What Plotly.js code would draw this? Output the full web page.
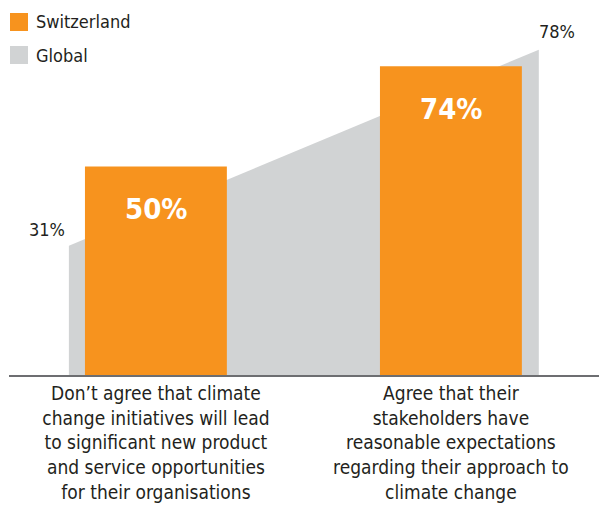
<!DOCTYPE html>
<html><head><meta charset="utf-8">
<script src="https://cdn.plot.ly/plotly-3.0.1.min.js"></script>
<style>html,body{margin:0;padding:0;background:#fff}#chart{width:599px;height:506px}</style>
</head><body><div id="chart"></div>
<script>
const categories = [
  "Don’t agree that climate<br>change initiatives will lead<br>to significant new product<br>and service opportunities<br>for their organisations",
  "Agree that their<br>stakeholders have<br>reasonable expectations<br>regarding their approach to<br>climate change"
];
const switzerland = [50, 74];
const globalVals = [31, 78];
const seriesNames = ["Switzerland", "Global"];

const ORANGE = "#f7931e", GREY = "#d1d3d4", TXT = "#231f20";
const FONT = "'DejaVu Sans Condensed', 'Liberation Sans Narrow', 'Liberation Sans', Arial, sans-serif";
const idx = categories.map((_, i) => i);
const spread = 0.295; // global area extends beyond bars
const areaX = [idx[0] - spread, idx[idx.length - 1] + spread + 0.003];
const XR = [-0.498, 1.502], YR = [0, 87.5];

const traces = [
  {type: "scatter", x: areaX, y: globalVals, mode: "none", fill: "tozeroy",
   fillcolor: GREY, name: seriesNames[1], hoverinfo: "skip", xaxis: "x", yaxis: "y"},
  {type: "bar", x: idx, y: switzerland, width: 0.481, marker: {color: ORANGE},
   name: seriesNames[0], xaxis: "x2", yaxis: "y2"}
];

const annotations = [];
switzerland.forEach((v, i) => annotations.push({x: idx[i], y: v, xref: "x", yref: "y",
  text: "<b>" + v + "%</b>", showarrow: false, yanchor: "middle", yshift: -43,
  font: {family: FONT, size: 29, color: "#ffffff"}}));
annotations.push({x: areaX[0], y: globalVals[0], xref: "x", yref: "y", text: globalVals[0] + "%",
  showarrow: false, xanchor: "right", yanchor: "bottom", xshift: -2, yshift: 4,
  font: {family: FONT, size: 18, color: TXT}});
annotations.push({x: areaX[1], y: globalVals[1], xref: "x", yref: "y", text: globalVals[1] + "%",
  showarrow: false, xanchor: "left", yanchor: "bottom", xshift: -2, yshift: 6,
  font: {family: FONT, size: 18, color: TXT}});

// custom legend
const W = 590, H = 365, L = 9, B = 375;
const px = v => (v - L) / W, py = v => (B - v) / H;
const legendItems = [[seriesNames[0], ORANGE, 13], [seriesNames[1], GREY, 46]];
const shapes = [];
legendItems.forEach(([name, col, top]) => {
  shapes.push({type: "rect", xref: "paper", yref: "paper", x0: px(10), x1: px(28),
    y0: py(top + 18), y1: py(top), fillcolor: col, line: {width: 0}});
  annotations.push({xref: "paper", yref: "paper", x: px(34), y: py(top + 9), text: name,
    showarrow: false, xanchor: "left", yanchor: "middle",
    font: {family: FONT, size: 18, color: TXT}});
});

const layout = {
  width: 599, height: 506, margin: {l: 9, r: 0, t: 10, b: 131},
  paper_bgcolor: "#fff", plot_bgcolor: "rgba(0,0,0,0)", showlegend: false,
  font: {family: FONT, color: TXT, size: 18},
  xaxis: {range: XR, tickvals: idx, ticktext: categories, showgrid: false,
    zeroline: false, showline: false, ticks: "", ticklabelstandoff: 5,
    tickfont: {family: FONT, size: 19, color: TXT}, fixedrange: true},
  yaxis: {range: YR, visible: false, showgrid: false, zeroline: false, fixedrange: true},
  xaxis2: {range: XR, overlaying: "x", showline: true, linecolor: "#6d6e71", linewidth: 2,
    showticklabels: false, showgrid: false, zeroline: false, ticks: "", fixedrange: true},
  yaxis2: {range: YR, overlaying: "y", visible: false, showgrid: false, zeroline: false, fixedrange: true},
  shapes: shapes, annotations: annotations
};
Plotly.newPlot("chart", traces, layout, {displayModeBar: false, staticPlot: true});
</script></body></html>
